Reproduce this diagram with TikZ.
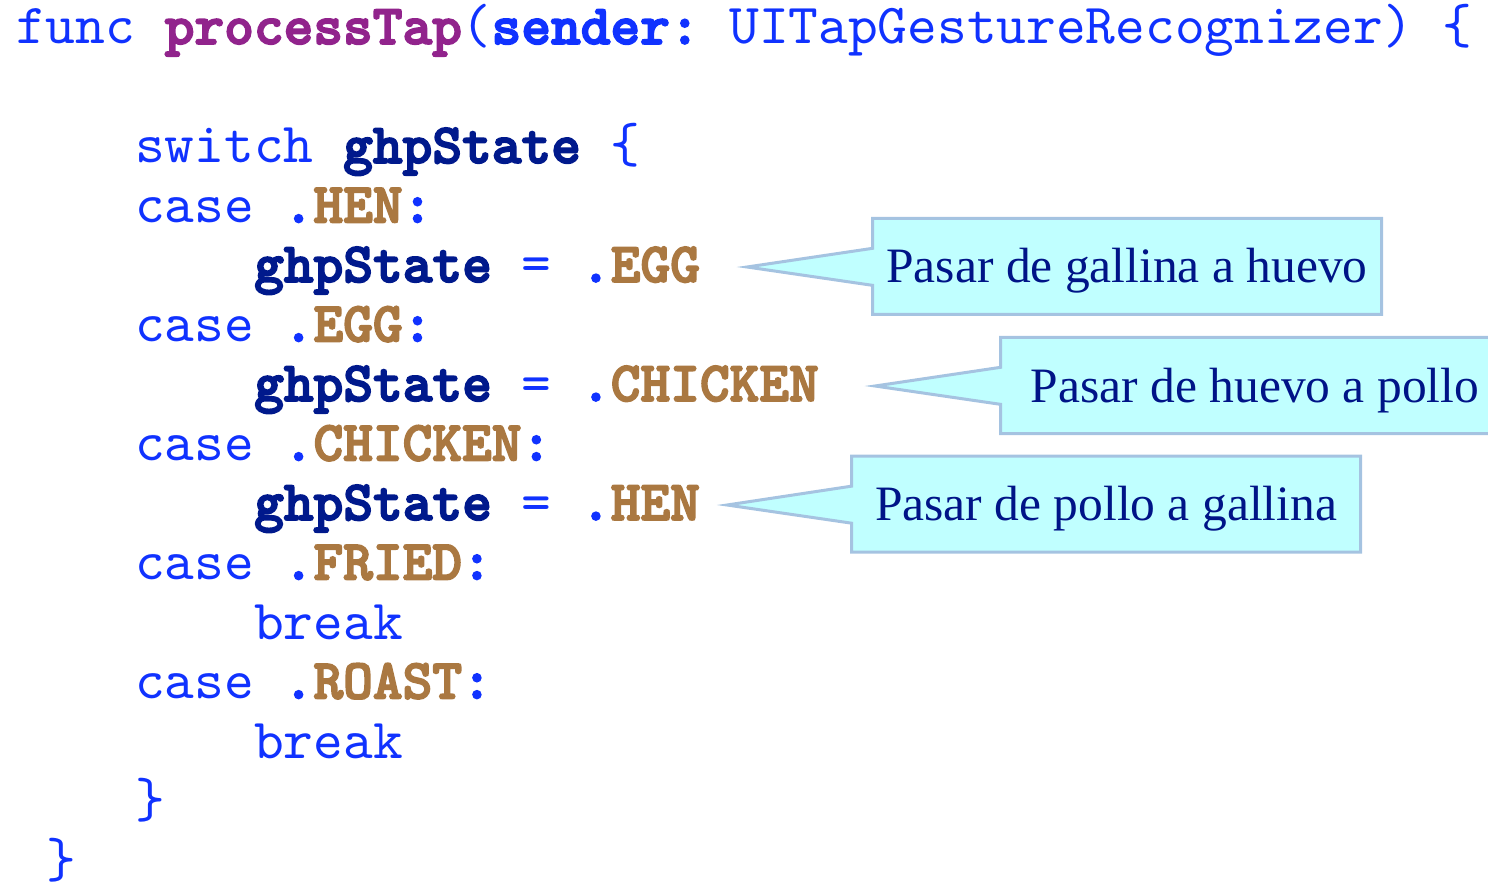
\documentclass[tikz,border=0pt]{standalone}
\usepackage{fontspec}
\setmonofont{lmmono10-regular.otf}[BoldFont=lmmonolt10-bold.otf,BoldFeatures={FakeBold=3}]
\newfontfamily\notefont{Liberation Serif}
\usepackage{tikz}
\usetikzlibrary{shapes.callouts}

\definecolor{kwblue}{RGB}{16,50,255}
\definecolor{fnpurple}{RGB}{145,35,140}
\definecolor{varnavy}{RGB}{0,25,140}
\definecolor{enumbrown}{RGB}{170,120,65}
\definecolor{notefill}{RGB}{192,255,255}
\definecolor{noteline}{RGB}{165,195,225}
\definecolor{notetext}{RGB}{0,20,135}

\newcommand*{\codefont}{\ttfamily\fontsize{56.6}{60}\selectfont}
\newcommand*{\kw}[1]{\textcolor{kwblue}{#1}}
\newcommand*{\kwb}[1]{\textcolor{kwblue}{\bfseries #1}}
\newcommand*{\fn}[1]{\textcolor{fnpurple}{\bfseries #1}}
\newcommand*{\var}[1]{\textcolor{varnavy}{\bfseries #1}}
\newcommand*{\val}[1]{\kwb{.}\textcolor{enumbrown}{\bfseries #1}}

\begin{document}
\begin{tikzpicture}[x=1pt,y=-1pt,
    code/.style={anchor=base west,inner sep=0pt,font=\codefont},
    note/.style={rectangle callout,draw=noteline,line width=3pt,fill=notefill,
      minimum width=509pt,minimum height=96pt,inner sep=0pt,
      text height=33pt,text depth=0pt,
      callout pointer width=37pt,text=notetext,
      font=\notefont\fontsize{49.5}{54}\selectfont}]
    \useasboundingbox (0,0) rectangle (1488,882);

    % the Swift code, one node per line
    \node[code] (func) at (16,44) {\kw{func\ }\fn{processTap}\kw{(}\kwb{sender:}\kw{\ UITapGestureRecognizer)\ \{}};
    \node[code] (switch) at (135,163) {\kw{switch\ }\var{ghpState}\kw{\ \{}};
    \node[code] (caseHen) at (135,222.5) {\kw{case\ }\val{HEN}\kwb{:}};
    \node[code] (toEgg) at (254,282) {\var{ghpState}\kw{\ =\ }\val{EGG}};
    \node[code] (caseEgg) at (135,341.5) {\kw{case\ }\val{EGG}\kwb{:}};
    \node[code] (toChicken) at (254,401) {\var{ghpState}\kw{\ =\ }\val{CHICKEN}};
    \node[code] (caseChicken) at (135,460.5) {\kw{case\ }\val{CHICKEN}\kwb{:}};
    \node[code] (toHen) at (254,520) {\var{ghpState}\kw{\ =\ }\val{HEN}};
    \node[code] (caseFried) at (135,579.5) {\kw{case\ }\val{FRIED}\kwb{:}};
    \node[code] (breakFried) at (254,639) {\kw{break}};
    \node[code] (caseRoast) at (135,698.5) {\kw{case\ }\val{ROAST}\kwb{:}};
    \node[code] (breakRoast) at (254,758) {\kw{break}};
    \node[code] (endSwitch) at (135,817.5) {\kw{\}}};
    \node[code] (endFunc) at (46,877) {\kw{\}}};

    % where each note points to
    \coordinate (tipEgg) at (747,267);
    \coordinate (tipChicken) at (875,386);
    \coordinate (tipHen) at (727,505);

    \node[note,callout absolute pointer=(tipEgg)] (noteEgg) at (1127,266.5) {Pasar de gallina a huevo};
    \node[note,callout absolute pointer=(tipChicken)] (noteChicken) at (1255,385.5) {Pasar de huevo a pollo};
    \node[note,callout absolute pointer=(tipHen)] (noteHen) at (1106,504) {Pasar de pollo a gallina};
  \end{tikzpicture}
\end{document}
